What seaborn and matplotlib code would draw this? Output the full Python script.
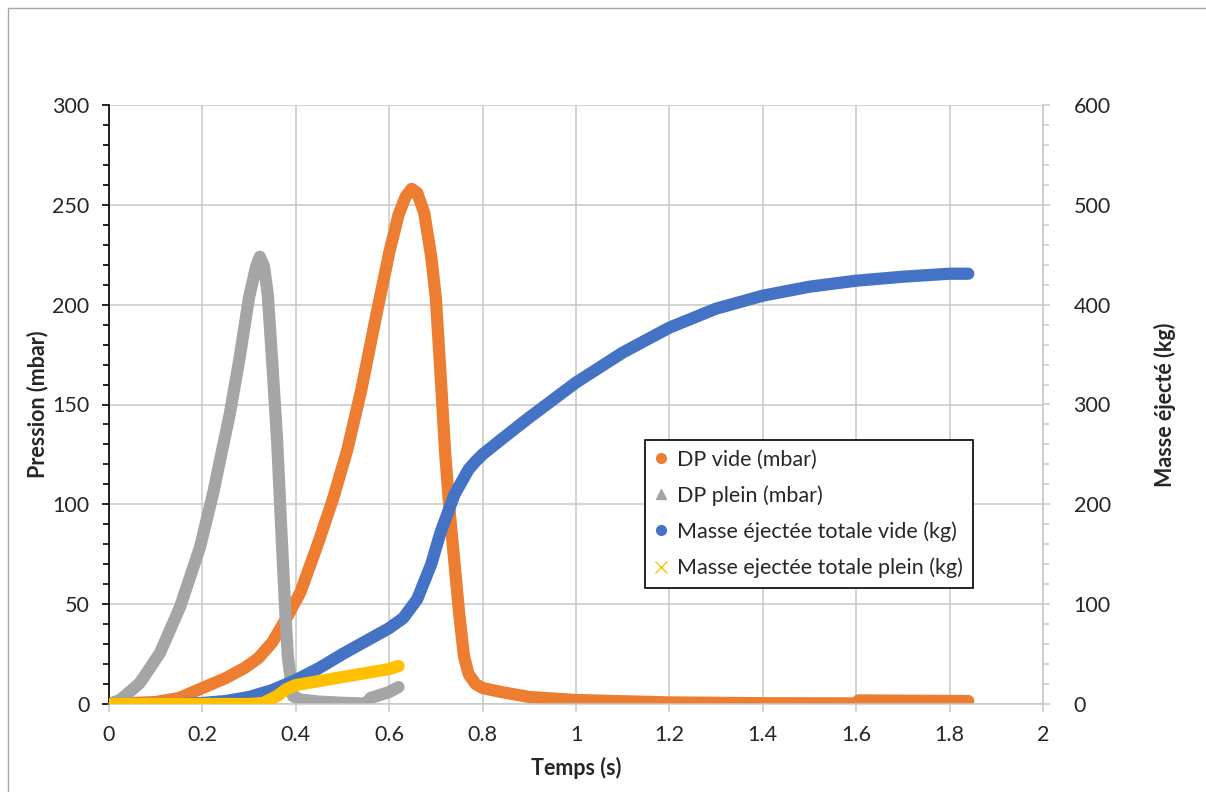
import numpy as np
import pandas as pd
import matplotlib
matplotlib.use("Agg")
import matplotlib.pyplot as plt
from matplotlib.lines import Line2D
from matplotlib.patches import Rectangle
from matplotlib.ticker import MultipleLocator
import seaborn as sns

# ---- data ----
t_vide_dp = [0.0, 0.10, 0.15, 0.20, 0.25, 0.29, 0.32, 0.35, 0.38, 0.41, 0.45, 0.48, 0.51, 0.54,
             0.57, 0.60, 0.62, 0.635, 0.648, 0.66, 0.675, 0.69, 0.70, 0.71, 0.72, 0.73,
             0.74, 0.75, 0.76, 0.77, 0.785, 0.80, 0.84, 0.90, 1.00, 1.20, 1.40, 1.60,
             1.605, 1.84]
dp_vide = [0, 1, 3, 8, 13, 18, 23, 31, 43, 56, 82, 103, 127, 157,
           192, 226, 245, 254, 258, 256, 246, 224, 203, 165, 125, 95,
           70, 45, 24, 15, 10, 8, 6, 3.5, 2, 0.8, 0.4, 0.3,
           1.8, 1.5]

t_plein_dp = [0.0, 0.024, 0.066, 0.109, 0.152, 0.195, 0.223, 0.259, 0.28, 0.30, 0.315, 0.323,
              0.332, 0.340, 0.351, 0.36, 0.37, 0.377, 0.383, 0.394, 0.41, 0.45, 0.50, 0.55,
              0.56, 0.60, 0.62]
dp_plein = [0, 2, 10.5, 25.5, 48.5, 78.6, 105.6, 145.7, 173.8, 203.8, 219, 224,
            219, 205, 165.7, 132, 82, 48.6, 23.5, 4, 2.2, 1.2, 0.6, 0.2,
            3, 6, 8.5]

t_masse_vide = [0.0, 0.15, 0.20, 0.25, 0.30, 0.35, 0.40, 0.45, 0.50, 0.55, 0.60, 0.63, 0.66,
                0.69, 0.71, 0.74, 0.77, 0.785, 0.80, 0.84, 0.90, 1.00, 1.10, 1.20, 1.30,
                1.40, 1.50, 1.60, 1.70, 1.80, 1.84]
masse_vide = [0, 0, 1, 3, 7, 14, 24, 36, 50, 63, 76, 86, 105,
              140, 172, 210, 235, 243, 250, 265, 287, 322, 352, 377, 396,
              409, 418, 424, 428, 431, 431]

t_masse_plein = [0.0, 0.30, 0.33, 0.36, 0.38, 0.40, 0.45, 0.50, 0.55, 0.60, 0.62]
masse_plein = [0, 0, 1, 8, 15, 19, 23, 27, 31, 35, 38]

labels = ["DP vide (mbar)", "DP plein (mbar)",
          "Masse éjectée totale vide (kg)", "Masse ejectée totale plein (kg)"]
x_ticks = [0, 0.2, 0.4, 0.6, 0.8, 1, 1.2, 1.4, 1.6, 1.8, 2]
x_ticklabels = ["0", "0.2", "0.4", "0.6", "0.8", "1", "1.2", "1.4", "1.6", "1.8", "2"]

C_OR, C_GR, C_BL, C_YE = "#ED7D31", "#A5A5A5", "#4472C4", "#FFC000"
GRID = "#c8c8c8"

sns.set_style("white")
plt.rcParams["font.family"] = ["Lato", "DejaVu Sans"]

fig = plt.figure(figsize=(12.06, 7.92), dpi=100)
ax = fig.add_axes([109 / 1206, 88 / 792, 934 / 1206, 599 / 792])
ax2 = ax.twinx()

LW = 8.8
kw = dict(linewidth=LW, solid_capstyle="round", solid_joinstyle="round", legend=False)
sns.lineplot(x=t_vide_dp, y=dp_vide, ax=ax, color=C_OR, sort=False, **kw)
sns.lineplot(x=t_plein_dp, y=dp_plein, ax=ax, color=C_GR, sort=False, **kw)
sns.lineplot(x=t_masse_vide, y=masse_vide, ax=ax2, color=C_BL, sort=False, **kw)
sns.lineplot(x=t_masse_plein, y=masse_plein, ax=ax2, color=C_YE, sort=False, **kw)

ax.set_xlim(0, 2)
ax.set_ylim(0, 300)
ax2.set_ylim(0, 600)

ax.set_xticks(x_ticks)
ax.set_xticklabels(x_ticklabels)
ax.yaxis.set_major_locator(MultipleLocator(50))
ax.yaxis.set_minor_locator(MultipleLocator(10))
ax2.yaxis.set_major_locator(MultipleLocator(100))
ax2.yaxis.set_minor_locator(MultipleLocator(20))

ax.grid(True, which="major", axis="both", color=GRID, linewidth=1.1)
ax.set_axisbelow(True)

ax.spines["top"].set_visible(False)
ax2.spines["top"].set_visible(False)
ax.spines["left"].set_color("black")
ax.spines["left"].set_linewidth(1.2)
ax.spines["bottom"].set_color(GRID)
ax.spines["bottom"].set_linewidth(1.1)
ax.spines["right"].set_visible(False)
ax2.spines["left"].set_visible(False)
ax2.spines["bottom"].set_visible(False)
ax2.spines["right"].set_color(GRID)
ax2.spines["right"].set_linewidth(1.1)

FS = 15.5
ax.tick_params(axis="y", which="major", direction="out", length=5, width=1.2,
               color="black", labelsize=FS, pad=9, left=True)
ax.tick_params(axis="y", which="minor", direction="out", length=4, width=1.2,
               color="black", left=True)
ax.tick_params(axis="x", which="major", direction="out", length=6, width=1.1,
               color=GRID, labelsize=FS, pad=9, bottom=True)
ax2.tick_params(axis="y", which="major", direction="out", length=5, width=1.1,
                color=GRID, labelsize=FS, pad=17, right=True)
ax2.tick_params(axis="y", which="minor", direction="out", length=4, width=1.1,
                color=GRID, right=True)
for lab in ax.get_xticklabels() + ax.get_yticklabels() + ax2.get_yticklabels():
    lab.set_color("#262626")

ax.set_xlabel("Temps (s)", fontsize=FS, fontweight="bold")
ax.set_ylabel("Pression (mbar)", fontsize=FS, fontweight="bold")
ax2.set_ylabel("Masse éjecté (kg)", fontsize=FS, fontweight="bold")
for lbl in (ax.xaxis.label, ax.yaxis.label, ax2.yaxis.label):
    lbl.set_va("center")
    lbl.set_ha("center")
    lbl.set_rotation_mode("anchor")
ax.xaxis.set_label_coords((576 - 109) / 934, -(768 - 704) / 599)
ax.yaxis.set_label_coords(-(109 - 38) / 934, 0.5)
ax2.yaxis.set_label_coords((1165 - 109) / 934, 0.5)

handles = [
    Line2D([], [], linestyle="none", marker="o", markersize=7, color=C_OR),
    Line2D([], [], linestyle="none", marker="^", markersize=7, color=C_GR),
    Line2D([], [], linestyle="none", marker="o", markersize=7, color=C_BL),
    Line2D([], [], linestyle="none", marker="x", markersize=8, color=C_YE, markeredgewidth=1),
]
leg = ax2.legend(handles, labels, loc="lower left",
                 bbox_to_anchor=((645 - 109) / 934, (704 - 588) / 599),
                 fontsize=FS, frameon=True, fancybox=False, framealpha=1,
                 edgecolor="black", handlelength=0.6, handletextpad=0.45,
                 labelspacing=0.73, borderpad=0.45, borderaxespad=0)
leg.get_frame().set_linewidth(1.2)
for txt in leg.get_texts():
    txt.set_color("#262626")

fig.patches.append(Rectangle((8 / 1206, -0.1), 1.2, (784 / 792) + 0.1,
                             transform=fig.transFigure, fill=False,
                             edgecolor="#a6a6a6", linewidth=1.0))

fig.savefig("out.png", dpi=100)
